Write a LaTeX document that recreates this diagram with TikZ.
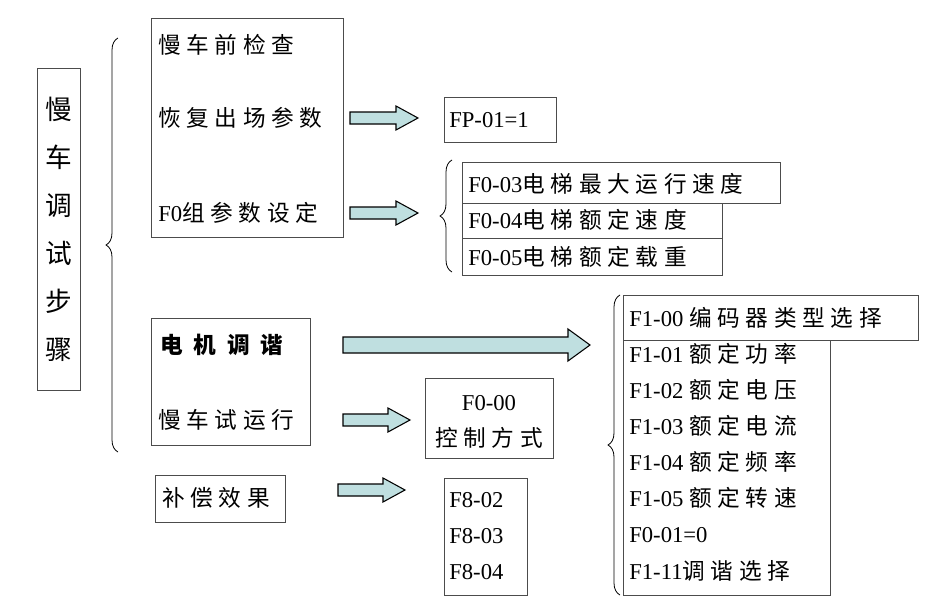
\documentclass[tikz,border=0pt]{standalone}
\usepackage{fontspec}
\setmainfont{Liberation Serif}
\newfontfamily\cjk[LetterSpace=25]{Noto Sans CJK SC}
\usetikzlibrary{decorations.pathreplacing}
\definecolor{arrfill}{HTML}{BFDFE0}
\begin{document}
\begin{tikzpicture}[x=0.75pt,y=-0.75pt,
  bx/.style={draw=black!70,line width=0.6pt},
  txt/.style={anchor=west,inner sep=0pt,font=\fontsize{17}{20}\selectfont},
  br/.style={decorate,decoration={brace,amplitude=9pt,mirror},line width=0.6pt},
  blk/.style={draw=black,fill=arrfill,line width=0.8pt}]
\useasboundingbox (0,0) rectangle (947,611);
\newcommand\blockarrow[4]{% x1,x2,y,half
  \draw[blk] (#1,#3-#4) -- (#2-22,#3-#4) -- (#2-22,#3-2*#4) -- (#2,#3) -- (#2-22,#3+2*#4) -- (#2-22,#3+#4) -- (#1,#3+#4) -- cycle;}
% title
\node[bx,minimum width=43*0.75pt,minimum height=322*0.75pt,inner sep=0pt] (title) at (58.5,229)
  {\parbox{20pt}{\centering\cjk\fontsize{20}{36}\selectfont 慢\\车\\调\\试\\步\\骤}};
\draw[br] (118,38) -- (118,452);
% group 1
\draw[bx] (151,18) rectangle (343,237);
\node[txt] (a1) at (158,45) {\cjk 慢车前检查};
\node[txt] (a2) at (158,118) {\cjk 恢复出场参数};
\node[txt] (a3) at (158,213) {F0\cjk 组参数设定};
\blockarrow{350}{418}{118}{6}
\blockarrow{350}{418}{213}{6}
\draw[bx] (444,97) rectangle (556,142);
\node[txt] (fp) at (449,120) {FP-01=1};
\draw[br] (452,160) -- (452,272);
\draw[bx] (462,162) rectangle (780,203);
\draw[bx] (462,203) rectangle (722,238);
\draw[bx] (462,238) rectangle (722,275);
\node[txt] (b1) at (468,184) {F0-03\cjk 电梯最大运行速度};
\node[txt] (b2) at (468,220) {F0-04\cjk 电梯额定速度};
\node[txt] (b3) at (468,257) {F0-05\cjk 电梯额定载重};
% group 2
\draw[bx] (151,318) rectangle (310,445);
\node[txt] (c1) at (160,345) {\cjk\bfseries 电 机 调 谐};
\node[txt] (c2) at (158,420) {\cjk 慢车试运行};
\blockarrow{343}{590}{345}{8}
\blockarrow{343}{410}{420}{6}
\draw[bx] (425,378) rectangle (553,458);
\node[inner sep=0pt,font=\fontsize{17}{20}\selectfont] (d1) at (489,403) {F0-00};
\node[inner sep=0pt,font=\fontsize{17}{20}\selectfont] (d2) at (489,438) {\cjk 控制方式};
\draw[bx] (155,475) rectangle (285,522);
\node[txt] (e1) at (162,498) {\cjk 补偿效果};
\blockarrow{338}{405}{490}{6}
\draw[bx] (444,478) rectangle (527,595);
\node[txt] (f1) at (449,500) {F8-02};
\node[txt] (f2) at (449,536) {F8-03};
\node[txt] (f3) at (449,572) {F8-04};
% F1 list
\draw[br] (620,295) -- (620,595);
\draw[bx] (623,295) rectangle (918,340);
\draw[bx] (623,340) rectangle (830,595);
\node[txt] (g0) at (629,318) {F1-00 \cjk 编码器类型选择};
\node[txt] (g1) at (629,354) {F1-01 \cjk 额定功率};
\node[txt] (g2) at (629,390) {F1-02 \cjk 额定电压};
\node[txt] (g3) at (629,426) {F1-03 \cjk 额定电流};
\node[txt] (g4) at (629,462) {F1-04 \cjk 额定频率};
\node[txt] (g5) at (629,498) {F1-05 \cjk 额定转速};
\node[txt] (g6) at (629,535) {F0-01=0};
\node[txt] (g7) at (629,571) {F1-11\cjk 调谐选择};
\end{tikzpicture}
\end{document}
